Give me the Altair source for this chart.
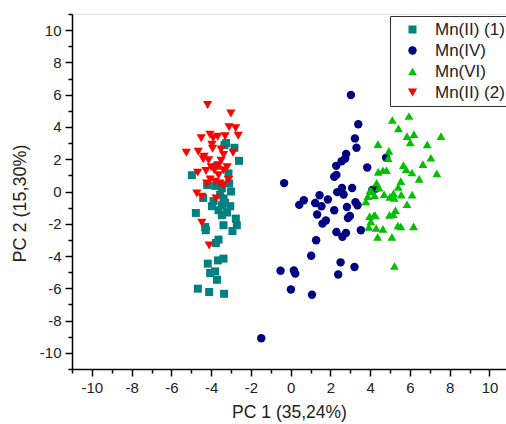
import altair as alt
import pandas as pd

# ---- data ----
series_names = ["Mn(II) (1)", "Mn(IV)", "Mn(VI)", "Mn(II) (2)"]
series_colors = ["#008080", "#000080", "#00C000", "#FF0000"]
series_shapes = ["square", "circle", "triangle-up", "triangle-down"]
series_sizes = [64, 85, 100, 100]

mn2a_x = [-3.33, -2.83, -2.6, -4.97, -3.13, -3.46, -3.88, -3.38, -4.2, -3.8, -3.1,
          -3.96, -3.46, -3.04, -3.63, -3.46, -4.77, -2.76, -2.71, -3.38, -2.93,
          -4.27, -3.63, -3.76, -3.38, -3.66, -4.17, -4.05, -3.8, -3.71, -4.67,
          -4.1, -3.35, -3.55, -3.2, -4.3, -3.0, -3.7, -4.4, -3.3, -3.25]
mn2a_y = [2.88, 2.71, 1.9, 1.01, 1.12, 0.2, -0.6, -0.43, 0.4, 0.35, 0.5,
          -0.91, -0.85, -0.91, -1.16, -1.47, -1.33, -1.68, -2.09, -2.09, -2.45,
          -2.4, -2.98, -3.19, -4.16, -4.27, -4.47, -5.05, -4.95, -5.47, -6.02,
          -6.23, -6.34, -0.2, -1.3, -2.2, 0.0, 1.6, -0.4, -0.7, 3.0]

mn4_x = [3.03, 3.4, 3.23, 3.31, 2.79, 2.74, 2.56, 2.29, 3.85, 2.3, 2.19, -0.33,
         4.29, 2.58, 3.09, 2.34, 2.66, 1.45, 0.66, 0.43, 1.23, 1.55, 1.87, 3.26,
         3.36, 2.19, 2.83, 1.33, 2.98, 2.88, 1.77, 1.6, 3.53, 2.3, 2.78, 2.6,
         1.28, 1.03, 2.51, 3.21, 2.39, -0.51, 0.16, 0.23, 0.01, 1.07, -1.48,
         4.8, 4.1]
mn4_y = [5.98, 4.17, 3.29, 2.71, 2.32, 2.05, 1.88, 1.59, 1.49, 1.03, 0.91, 0.52,
         0.18, 0.22, 0.22, -0.04, -0.19, -0.23, -0.54, -0.83, -0.71, -0.91, -0.5,
         -0.67, -0.85, -1.16, -0.96, -1.43, -1.52, -1.64, -1.8, -1.99, -2.4,
         -2.51, -2.57, -2.8, -3.02, -3.98, -4.39, -4.68, -5.14, -4.91, -4.89,
         -5.09, -6.07, -6.4, -9.09, 2.1, 0.1]

mn6_x = [5.95, 5.11, 5.42, 6.2, 5.85, 6.01, 7.56, 4.39, 6.87, 4.94, 4.9, 7.05,
         6.65, 5.67, 5.81, 4.64, 4.82, 6.1, 7.35, 6.46, 5.54, 4.32, 5.41, 4.0,
         4.44, 4.7, 4.22, 5.17, 4.99, 5.56, 6.11, 3.88, 3.78, 5.21, 5.85, 5.27,
         4.97, 3.97, 4.19, 5.16, 4.03, 5.39, 5.54, 6.18, 3.93, 4.3, 4.64, 4.37,
         5.09, 5.22, 4.4, 4.08, 4.25]
mn6_y = [4.68, 4.43, 3.91, 3.56, 3.43, 3.04, 3.43, 2.94, 2.92, 2.52, 2.07, 2.09,
         1.7, 1.63, 1.38, 1.32, 1.32, 1.18, 1.12, 0.78, 0.64, 0.53, 0.28, 0.08,
         0.24, -0.17, -0.23, -0.12, -0.33, -0.19, -0.19, -0.29, -0.62, -0.4,
         -0.79, -1.16, -1.45, -1.53, -1.47, -1.41, -1.85, -2.11, -2.16, -2.16,
         -2.2, -2.26, -2.32, -2.82, -2.82, -4.62, 1.22, 0.0, -1.47]

mn2b_x = [-4.18, -3.01, -3.1, -2.77, -2.64, -4.5, -4.06, -3.67, -3.3, -3.96,
          -3.93, -5.25, -4.65, -2.9, -3.38, -4.36, -4.13, -3.5, -3.63, -4.68,
          -4.26, -3.84, -3.38, -3.63, -4.05, -3.13, -4.22, -3.8, -3.38, -4.72,
          -4.47, -3.75, -4.47, -4.1, -3.9, -3.5, -4.0, -4.4, -3.2, -3.55]
mn2b_y = [5.36, 4.84, 3.98, 3.92, 3.45, 3.3, 3.52, 3.39, 3.42, 2.9,
          2.65, 2.4, 2.46, 2.4, 2.27, 2.15, 1.94, 1.9, 1.63, 1.17,
          1.27, 1.32, 1.32, 1.01, 0.75, 0.72, 0.49, 0.6, 0.39, -0.12,
          -0.32, -0.43, -1.93, -3.34, 3.3, 2.6, 1.5, 2.0, 1.5, 0.5]

all_x = [mn2a_x, mn4_x, mn6_x, mn2b_x]
all_y = [mn2a_y, mn4_y, mn6_y, mn2b_y]

rows = []
for i, (name, xs, ys) in enumerate(zip(series_names, all_x, all_y)):
    for xv, yv in zip(xs, ys):
        rows.append({"series": name, "x": xv, "y": yv, "ord": i})
df = pd.DataFrame(rows)

tick_vals = list(range(-11, 11))
ytick_vals = list(range(-11, 12))
label_expr = "datum.value % 2 === 0 ? '' + datum.value : ''"
tick_size = {"condition": {"test": "datum.value % 2 === 0", "value": 7}, "value": 4}

font = "Liberation Sans"

axis_common = dict(
    grid=False,
    domainColor="black",
    domainWidth=1.5,
    tickColor="black",
    tickWidth=1.5,
    labelFont=font,
    labelFontSize=15,
    labelColor="#222222",
    labelOverlap=False,
    labelFlush=False,
    labelBound=False,
    titleFont=font,
    titleFontWeight="normal",
    titleColor="#222222",
    labelExpr=label_expr,
    tickSize=tick_size,
)

chart = alt.Chart(df).mark_point(filled=True, opacity=1, strokeWidth=0).encode(
    x=alt.X("x:Q", scale=alt.Scale(domain=[-11, 10.83], nice=False, zero=False),
            axis=alt.Axis(title="PC 1 (35,24%)", values=tick_vals, labelPadding=4,
                          titlePadding=8, titleFontSize=17.5, **axis_common)),
    y=alt.Y("y:Q", scale=alt.Scale(domain=[-11, 11], nice=False, zero=False),
            axis=alt.Axis(title="PC 2 (15,30%)", values=ytick_vals, labelPadding=4,
                          titleFontSize=18, titleX=-52, titleY=189,
                          titleBaseline="middle", titleAlign="center",
                          titleAngle=270, **axis_common)),
    color=alt.Color("series:N",
                    scale=alt.Scale(domain=series_names, range=series_colors),
                    legend=alt.Legend(title=None, orient="none", legendX=318, legendY=2,
                                      strokeColor="#333333", padding=5, fillColor="white",
                                      labelFont=font, labelFontSize=17, labelColor="#222222",
                                      symbolSize=45, symbolOffset=9, labelOffset=14,
                                      rowPadding=3, symbolStrokeWidth=0,
                                      labelLimit=200)),
    shape=alt.Shape("series:N",
                    scale=alt.Scale(domain=series_names, range=series_shapes)),
    size=alt.Size("series:N",
                  scale=alt.Scale(domain=series_names, range=series_sizes),
                  legend=None),
    order=alt.Order("ord:Q"),
).properties(
    width=434,
    height=355,
    autosize=alt.AutoSizeParams(type="none"),
    padding={"left": 72, "top": 14, "right": 0, "bottom": 55},
).configure_view(stroke=None).configure(background="white")

chart.save("out.html", embed_options={"renderer": "svg", "actions": False})
